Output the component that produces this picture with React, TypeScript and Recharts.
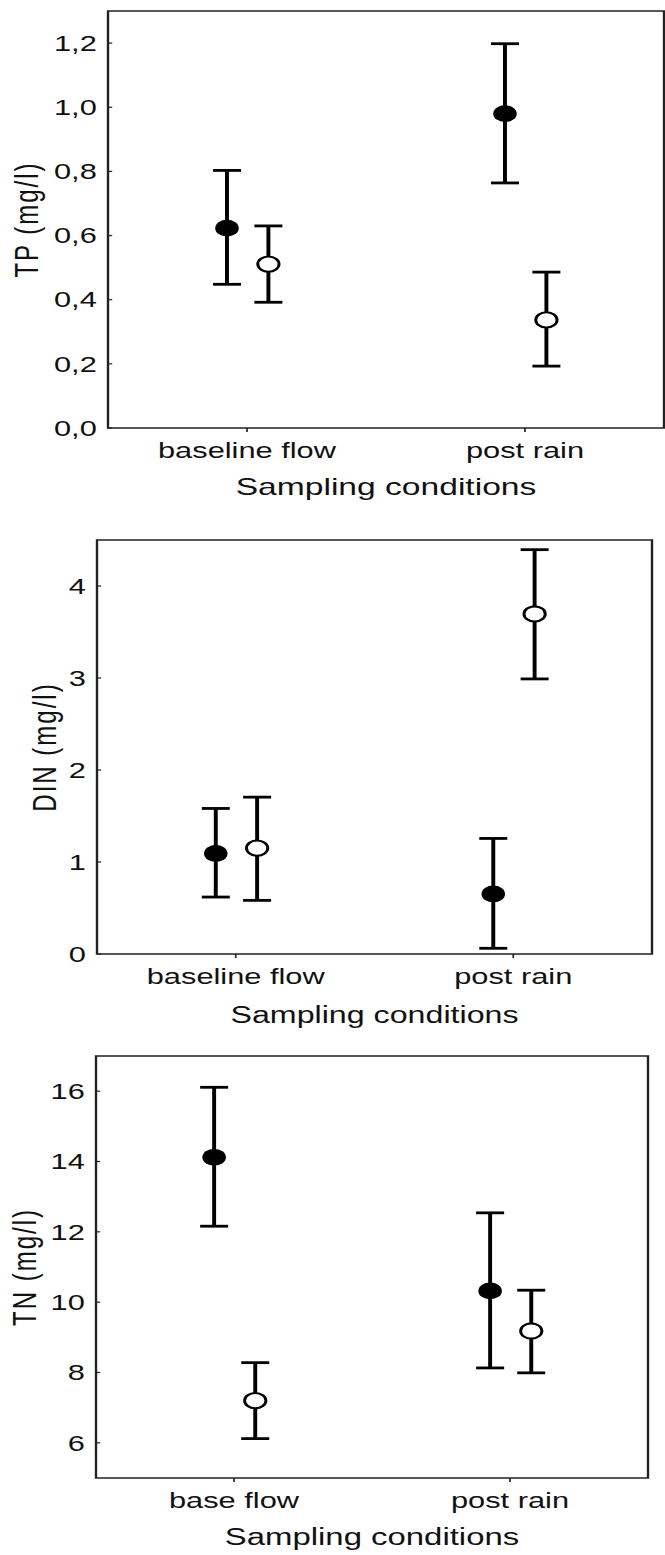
import React from 'react';
import { ScatterChart, Scatter, XAxis, YAxis, ErrorBar, ReferenceArea } from 'recharts';

// ---------- data ----------
const tpCategories = ['baseline flow', 'post rain'];
const tpFilledMean = [0.623, 0.98];
const tpFilledLow = [0.448, 0.764];
const tpFilledHigh = [0.803, 1.198];
const tpOpenMean = [0.511, 0.337];
const tpOpenLow = [0.392, 0.193];
const tpOpenHigh = [0.63, 0.486];
const tpTicks = [0, 0.2, 0.4, 0.6, 0.8, 1.0, 1.2];

const dinCategories = ['baseline flow', 'post rain'];
const dinFilledMean = [1.093, 0.652];
const dinFilledLow = [0.619, 0.062];
const dinFilledHigh = [1.582, 1.256];
const dinOpenMean = [1.151, 3.696];
const dinOpenLow = [0.583, 2.99];
const dinOpenHigh = [1.705, 4.395];
const dinTicks = [0, 1, 2, 3, 4];

const tnCategories = ['base flow', 'post rain'];
const tnFilledMean = [14.12, 10.32];
const tnFilledLow = [12.16, 8.13];
const tnFilledHigh = [16.11, 12.54];
const tnOpenMean = [7.2, 9.18];
const tnOpenLow = [6.12, 7.99];
const tnOpenHigh = [8.28, 10.34];
const tnTicks = [6, 8, 10, 12, 14, 16];

const xLabel = 'Sampling conditions';

// ---------- styling ----------
const STRETCH = 1.4;
const INNER_W = 665 / STRETCH;
const FONT = "Arial, 'Liberation Sans', sans-serif";
const FILLED_OFFSET = -0.072;
const OPEN_OFFSET = 0.077;

const buildRows = (mean: number[], low: number[], high: number[], offset: number) =>
  mean.map((m, i) => ({ x: i + offset, y: m, err: [m - low[i], high[i] - m] }));

const FilledDot = (p: any) => <circle cx={p.cx} cy={p.cy} r={8.4} fill="#000" />;
const OpenDot = (p: any) => (
  <circle cx={p.cx} cy={p.cy} r={7.6} fill="#fff" stroke="#000" strokeWidth={2.1} />
);

type PanelProps = {
  top: number;
  height: number;
  plotTop: number;
  plotBottom: number;
  plotLeft: number;
  plotRight: number;
  domain: [number, number];
  ticks: number[];
  fmt: (v: number) => string;
  categories: string[];
  yLabel: string;
  yLabelX: number;
  titleSize: number;
  titleBaseline: number;
  filled: any[];
  open: any[];
};

function Panel(p: PanelProps) {
  const axisH = p.height - p.plotBottom;
  return (
    <div
      style={{
        position: 'absolute',
        left: 0,
        top: p.top,
        width: INNER_W,
        height: p.height,
        transform: `scaleX(${STRETCH})`,
        transformOrigin: '0 0',
      }}
    >
      <ScatterChart
        width={INNER_W}
        height={p.height}
        margin={{ top: p.plotTop, right: INNER_W - p.plotRight, bottom: 0, left: 0 }}
      >
        <XAxis
          type="number"
          dataKey="x"
          domain={[-0.5, 1.5]}
          ticks={[0, 1]}
          allowDataOverflow
          tickFormatter={(v: number) => p.categories[Math.round(v)]}
          height={axisH}
          axisLine={false}
          tickSize={4}
          tickMargin={10}
          tickLine={{ stroke: '#222', strokeWidth: 1.2 }}
          tick={{ fill: '#111', fontSize: 22, fontFamily: FONT }}
          label={{
            value: xLabel,
            position: 'insideBottom',
            offset: axisH - p.titleBaseline,
            fill: '#111',
            fontSize: p.titleSize,
            fontFamily: FONT,
          }}
        />
        <YAxis
          type="number"
          dataKey="y"
          domain={p.domain}
          ticks={p.ticks}
          allowDataOverflow
          tickFormatter={p.fmt}
          width={p.plotLeft}
          axisLine={false}
          tickSize={-3}
          tickMargin={11}
          tickLine={{ stroke: '#222', strokeWidth: 1.2 }}
          tick={{ fill: '#111', fontSize: 22, fontFamily: FONT }}
          label={{
            value: p.yLabel,
            angle: -90,
            position: 'insideLeft',
            offset: p.yLabelX,
            fill: '#111',
            fontSize: 24,
            fontFamily: FONT,
            style: { textAnchor: 'middle', letterSpacing: '2px' },
          }}
        />
        <ReferenceArea
          x1={-0.5}
          x2={1.5}
          y1={p.domain[0]}
          y2={p.domain[1]}
          fill="none"
          stroke="#222"
          strokeWidth={1.7}
          ifOverflow="visible"
        />
        <Scatter data={p.filled} shape={FilledDot} isAnimationActive={false}>
          <ErrorBar dataKey="err" direction="y" width={10} strokeWidth={2.8} stroke="#000" />
        </Scatter>
        <Scatter data={p.open} shape={OpenDot} isAnimationActive={false}>
          <ErrorBar dataKey="err" direction="y" width={10} strokeWidth={2.8} stroke="#000" />
        </Scatter>
      </ScatterChart>
    </div>
  );
}

const comma1 = (v: number) => v.toFixed(1).replace('.', ',');
const plain = (v: number) => String(v);

export default function App() {
  return (
    <div style={{ position: 'absolute', left: 0, top: 0, width: 665, height: 1555, background: '#fff', overflow: 'hidden' }}>
      <Panel
        top={0}
        height={520}
        plotTop={11}
        plotBottom={428}
        plotLeft={108 / STRETCH}
        plotRight={664 / STRETCH}
        domain={[0, 1.3]}
        ticks={tpTicks}
        fmt={comma1}
        categories={tpCategories}
        yLabel="TP (mg/l)"
        yLabelX={18.9}
        titleSize={24}
        titleBaseline={67}
        filled={buildRows(tpFilledMean, tpFilledLow, tpFilledHigh, FILLED_OFFSET)}
        open={buildRows(tpOpenMean, tpOpenLow, tpOpenHigh, OPEN_OFFSET)}
      />
      <Panel
        top={520}
        height={520}
        plotTop={20}
        plotBottom={434}
        plotLeft={97 / STRETCH}
        plotRight={652 / STRETCH}
        domain={[0, 4.5]}
        ticks={dinTicks}
        fmt={plain}
        categories={dinCategories}
        yLabel="DIN (mg/l)"
        yLabelX={31.8}
        titleSize={23}
        titleBaseline={69}
        filled={buildRows(dinFilledMean, dinFilledLow, dinFilledHigh, FILLED_OFFSET)}
        open={buildRows(dinOpenMean, dinOpenLow, dinOpenHigh, OPEN_OFFSET)}
      />
      <Panel
        top={1040}
        height={515}
        plotTop={16}
        plotBottom={438}
        plotLeft={96 / STRETCH}
        plotRight={648 / STRETCH}
        domain={[5, 17]}
        ticks={tnTicks}
        fmt={plain}
        categories={tnCategories}
        yLabel="TN (mg/l)"
        yLabelX={17.4}
        titleSize={23.5}
        titleBaseline={67}
        filled={buildRows(tnFilledMean, tnFilledLow, tnFilledHigh, FILLED_OFFSET)}
        open={buildRows(tnOpenMean, tnOpenLow, tnOpenHigh, OPEN_OFFSET)}
      />
    </div>
  );
}
